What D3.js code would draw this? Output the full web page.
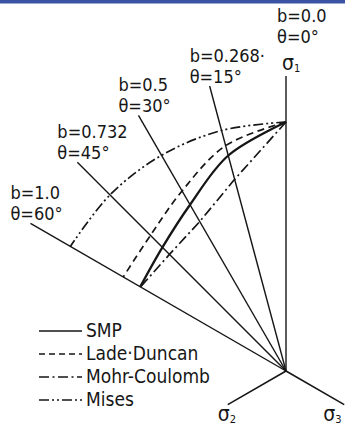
<!DOCTYPE html>
<html>
<head>
<meta charset="utf-8">
<script src="https://cdn.jsdelivr.net/npm/d3@7"></script>
<style>
  html, body { margin: 0; padding: 0; background: #fff; }
  svg { display: block; }
  text { font-family: "Liberation Sans Narrow", "DejaVu Sans Condensed", "Liberation Sans", sans-serif; fill: #161616; }
</style>
</head>
<body>
<svg id="chart" width="345" height="425"></svg>
<script>
// Lode angle of each radial reference line (degrees) and its b value
const thetaDeg = [0, 15, 30, 45, 60];
const bLabels = ["0.0", "0.268·", "0.5", "0.732", "1.0"];

// Deviatoric radius of each criterion, relative to its value on the σ1 axis
const smp         = [1.000, 0.896, 0.771, 0.702, 0.676];
const ladeDuncan  = [1.000, 0.937, 0.835, 0.770, 0.755];
const mohrCoulomb = [1.000, 0.797, 0.693, 0.662, 0.675];
const mises       = [1.000, 1.000, 1.000, 1.000, 1.000];

const legendNames = ["SMP", "Lade·Duncan", "Mohr-Coulomb", "Mises"];

const svg = d3.select("#chart");
const ink = "#161616";

// thin header band
svg.append("rect").attr("x", 0).attr("y", 0).attr("width", 345).attr("height", 3.5).attr("fill", "#3b53a4");

const origin = [286, 371];
const g = svg.append("g").attr("transform", `translate(${origin[0]},${origin[1]})`);

// radius: relative deviatoric stress -> pixels; angle: Lode angle -> radians (counter-clockwise from σ1)
const r = d3.scaleLinear().domain([0, 1]).range([0, 249]);
const ang = d3.scaleLinear().domain([0, 60]).range([0, -Math.PI / 3]);
const rayLength = 1.185;
const principalLength = 0.27;

const pt = (deg, rel) => [r(rel) * Math.sin(ang(deg)), -r(rel) * Math.cos(ang(deg))];

// radial reference lines (θ = 0 is the σ1 axis)
g.selectAll("line.ray").data(thetaDeg).join("line")
  .attr("class", "ray")
  .attr("x1", 0).attr("y1", 0)
  .attr("x2", d => pt(d, rayLength)[0])
  .attr("y2", d => pt(d, rayLength)[1])
  .attr("stroke", ink).attr("stroke-width", 1.4);

// σ2 and σ3 axes
const principalAxes = [{deg: 120, name: "2", dx: -10}, {deg: -120, name: "3", dx: -21}];
g.selectAll("line.axis").data(principalAxes).join("line")
  .attr("class", "axis")
  .attr("x1", 0).attr("y1", 0)
  .attr("x2", d => pt(d.deg, principalLength)[0])
  .attr("y2", d => pt(d.deg, principalLength)[1])
  .attr("stroke", ink).attr("stroke-width", 1.6);

// failure criteria traces in the deviatoric plane
const radial = d3.lineRadial()
  .angle((d, i) => ang(thetaDeg[i]))
  .radius(d => r(d));

const criteria = [
  {name: "SMP", values: smp, dash: null, width: 2.3, curve: d3.curveCatmullRom.alpha(0.5)},
  {name: "Lade·Duncan", values: ladeDuncan, dash: "7,4.5", width: 1.7, curve: d3.curveCatmullRom.alpha(0.5)},
  {name: "Mohr-Coulomb", values: mohrCoulomb, dash: "10,3.5,2,3.5", width: 1.7, curve: d3.curveLinear},
  {name: "Mises", values: mises, dash: "10,3,2,3,2,3", width: 1.7, curve: d3.curveCatmullRom.alpha(0.5)}
];

g.selectAll("path.crit").data(criteria).join("path")
  .attr("class", "crit")
  .attr("d", d => radial.curve(d.curve)(d.values))
  .attr("fill", "none")
  .attr("stroke", ink)
  .attr("stroke-width", d => d.width)
  .attr("stroke-dasharray", d => d.dash);

// labels at the tip of each radial line
const labelSize = 18;
thetaDeg.forEach((deg, i) => {
  const tip = pt(deg, rayLength);
  const x = origin[0] + tip[0] + (deg === 0 ? -9 : -20);
  const y = origin[1] + tip[1];
  const shift = deg === 0 ? 33 : 3;
  svg.append("text").attr("x", x).attr("y", y - shift)
    .attr("font-size", labelSize).text(`θ=${deg}°`);
  svg.append("text").attr("x", x).attr("y", y - shift - 21)
    .attr("font-size", labelSize).text(`b=${bLabels[i]}`);
});

// σ labels
function sigma(x, y, sub) {
  const t = svg.append("text").attr("x", x).attr("y", y).attr("font-size", 21);
  t.append("tspan").text("σ");
  t.append("tspan").attr("font-size", 11).attr("dy", 2).text(sub);
}
const sigma1Tip = pt(0, rayLength);
sigma(origin[0] + sigma1Tip[0] - 4, origin[1] + sigma1Tip[1] - 6, "1");
principalAxes.forEach(a => {
  const e = pt(a.deg, principalLength);
  sigma(origin[0] + e[0] + a.dx, origin[1] + e[1] + 16, a.name);
});

// legend
const legend = svg.append("g").attr("transform", "translate(39,331)");
const rows = legend.selectAll("g").data(criteria).join("g")
  .attr("transform", (d, i) => `translate(0,${i * 23})`);
rows.append("line")
  .attr("x1", 0).attr("x2", 43).attr("y1", 0).attr("y2", 0)
  .attr("stroke", ink).attr("stroke-width", 1.6)
  .attr("stroke-dasharray", d => d.dash ? (d.name === "Lade·Duncan" ? "6,4" : d.dash) : null);
rows.append("text")
  .attr("x", 47).attr("y", 6)
  .attr("font-size", 19)
  .text((d, i) => legendNames[i]);
</script>
</body>
</html>
